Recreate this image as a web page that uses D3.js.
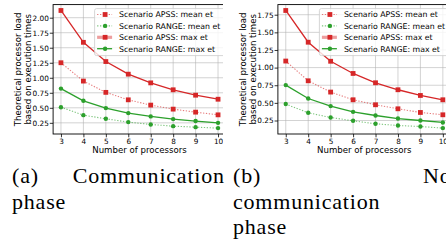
<!DOCTYPE html>
<html><head><meta charset="utf-8">
<script src="https://cdn.jsdelivr.net/npm/d3@7"></script>
<style>
html,body{margin:0;padding:0;background:#fff;}
svg{display:block;}
</style></head>
<body>
<svg id="chart" width="446" height="244"></svg>
<script>
// ---- data ----
const processors = [3, 4, 5, 6, 7, 8, 9, 10];
const commApssMean  = [1.25, 0.945, 0.757, 0.633, 0.545, 0.478, 0.428, 0.383];
const commRangeMean = [0.51, 0.378, 0.317, 0.262, 0.223, 0.195, 0.178, 0.162];
const commApssMax   = [2.12, 1.59, 1.27, 1.06, 0.915, 0.80, 0.71, 0.643];
const commRangeMax  = [0.82, 0.617, 0.495, 0.412, 0.357, 0.312, 0.28, 0.25];
const noCommApssMean  = [1.093, 0.813, 0.653, 0.544, 0.473, 0.416, 0.364, 0.331];
const noCommRangeMean = [0.483, 0.359, 0.293, 0.246, 0.203, 0.179, 0.165, 0.142];
const noCommApssMax   = [1.81, 1.36, 1.09, 0.917, 0.785, 0.686, 0.605, 0.544];
const noCommRangeMax  = [0.752, 0.562, 0.454, 0.373, 0.321, 0.278, 0.25, 0.222];
const seriesLabels = ["Scenario APSS: mean et", "Scenario RANGE: mean et", "Scenario APSS: max et", "Scenario RANGE: max et"];
const commYTicks = [0.25, 0.5, 0.75, 1.0, 1.25, 1.5, 1.75, 2.0];
const noCommYTicks = [0.25, 0.5, 0.75, 1.0, 1.25, 1.5, 1.75];
const xLabel = "Number of processors";
const yLabelLines = ["Theoretical processor load", "based on execution times"];

const RED = "#d62728", GREEN = "#2ca02c";
const svg = d3.select("#chart");

function pad5(lo, hi) { const p = (hi - lo) * 0.05; return [lo - p, hi + p]; }

function panel(opt) {
  const {clipX, clipW, left, id, series, yTicks} = opt;
  const top = 4.6, bottom = 134, width = 172.8;
  svg.append("clipPath").attr("id", "clip" + id)
    .append("rect").attr("x", clipX).attr("y", 0).attr("width", clipW).attr("height", 244);
  const g = svg.append("g").attr("clip-path", `url(#clip${id})`);

  const x = d3.scaleLinear().domain(pad5(3, 10)).range([left, left + width]);
  const all = series.flatMap(s => s.values);
  const y = d3.scaleLinear().domain(pad5(d3.min(all), d3.max(all))).range([bottom, top]);

  // grid
  g.append("g").selectAll("line").data(processors).join("line")
    .attr("x1", d => x(d)).attr("x2", d => x(d)).attr("y1", top).attr("y2", bottom)
    .attr("stroke", "#b0b0b0").attr("stroke-width", 0.8).attr("stroke-opacity", 0.7);
  g.append("g").selectAll("line").data(yTicks).join("line")
    .attr("x1", left).attr("x2", left + width).attr("y1", d => y(d)).attr("y2", d => y(d))
    .attr("stroke", "#b0b0b0").attr("stroke-width", 0.8).attr("stroke-opacity", 0.7);

  // series
  series.forEach(s => {
    const line = d3.line().x((d, i) => x(processors[i])).y(d => y(d)).curve(d3.curveLinear);
    g.append("path").datum(s.values).attr("d", line)
      .attr("fill", "none").attr("stroke", s.color)
      .attr("stroke-width", s.dashed ? 1.1 : 1.3)
      .attr("stroke-opacity", s.dashed ? 0.6 : 1)
      .attr("stroke-dasharray", s.dashed ? "1.3,1.6" : null);
    if (s.marker === "square") {
      g.append("g").selectAll("rect").data(s.values).join("rect")
        .attr("x", (d, i) => x(processors[i]) - 2.4).attr("y", d => y(d) - 2.4)
        .attr("width", 4.8).attr("height", 4.8).attr("fill", s.color);
    } else {
      g.append("g").selectAll("circle").data(s.values).join("circle")
        .attr("cx", (d, i) => x(processors[i])).attr("cy", d => y(d))
        .attr("r", 2.2).attr("fill", s.color);
    }
  });

  // spines
  g.append("rect").attr("x", left).attr("y", top).attr("width", width).attr("height", bottom - top)
    .attr("fill", "none").attr("stroke", "#000").attr("stroke-width", 0.9);

  // axes
  const xa = g.append("g").attr("transform", `translate(0,${bottom})`)
    .call(d3.axisBottom(x).tickValues(processors).tickFormat(d3.format("d")).tickSize(3.3).tickPadding(1.5));
  const ya = g.append("g").attr("transform", `translate(${left},0)`)
    .call(d3.axisLeft(y).tickValues(yTicks).tickFormat(d3.format(".2f")).tickSize(3.3).tickPadding(1));
  [xa, ya].forEach(a => {
    a.select(".domain").remove();
    a.selectAll("line").attr("stroke", "#000").attr("stroke-width", 0.8);
    a.selectAll("text").attr("font-family", "DejaVu Sans").attr("font-size", 7.3).attr("fill", "#000");
  });

  // axis labels
  g.append("text").attr("x", left + width / 2).attr("y", 153.2).attr("text-anchor", "middle")
    .attr("font-family", "DejaVu Sans").attr("font-size", 8.6).text(xLabel);
  const cy = (top + bottom) / 2;
  yLabelLines.forEach((t, i) => {
    const bx = left - 32.3 + i * 10.2;
    g.append("text").attr("transform", `translate(${bx},${cy}) rotate(-90)`)
      .attr("text-anchor", "middle").attr("font-family", "DejaVu Sans").attr("font-size", 8.6).text(t);
  });

  // legend
  const lx = left + 41.5, ly = 8.6;
  const lg = g.append("g");
  lg.append("rect").attr("x", lx).attr("y", ly).attr("width", 132).attr("height", 47).attr("rx", 2)
    .attr("fill", "#fff").attr("fill-opacity", 0.8).attr("stroke", "#cccccc").attr("stroke-width", 0.8);
  series.forEach((s, i) => {
    const ry = 14.5 + i * 11.4;
    if (s.thick) {
      lg.append("line").attr("x1", lx + 2.5).attr("x2", lx + 17.5).attr("y1", ry).attr("y2", ry)
        .attr("stroke", s.color).attr("stroke-opacity", 0.45).attr("stroke-width", 3.2);
    } else {
      lg.append("line").attr("x1", lx + 2.5).attr("x2", lx + 17.5).attr("y1", ry).attr("y2", ry)
        .attr("stroke", s.color).attr("stroke-width", s.dashed ? 1.1 : 1.3)
        .attr("stroke-opacity", s.dashed ? 0.6 : 1)
        .attr("stroke-dasharray", s.dashed ? "1.3,1.6" : null);
    }
    if (s.marker === "square") {
      lg.append("rect").attr("x", lx + 10.5 - 2.4).attr("y", ry - 2.4).attr("width", 4.8).attr("height", 4.8).attr("fill", s.color);
    } else {
      lg.append("circle").attr("cx", lx + 10.5).attr("cy", ry).attr("r", 2.2).attr("fill", s.color);
    }
    lg.append("text").attr("x", lx + 24.5).attr("y", ry + 2.8).attr("font-family", "DejaVu Sans")
      .attr("font-size", 7.8).attr("fill", "#000").text(seriesLabels[i]);
  });
}

function mkSeries(apssMean, rangeMean, apssMax, rangeMax) {
  return [
    {values: apssMean, color: RED, dashed: true, marker: "square"},
    {values: rangeMean, color: GREEN, dashed: true, marker: "circle"},
    {values: apssMax, color: RED, dashed: false, marker: "square", thick: true},
    {values: rangeMax, color: GREEN, dashed: false, marker: "circle"}
  ];
}

panel({clipX: 0, clipW: 223, left: 53.1, id: "a", yTicks: commYTicks,
  series: mkSeries(commApssMean, commRangeMean, commApssMax, commRangeMax)});
panel({clipX: 223, clipW: 223, left: 277.9, id: "b", yTicks: noCommYTicks,
  series: mkSeries(noCommApssMean, noCommRangeMean, noCommApssMax, noCommRangeMax)});

// captions
const cap = svg.append("g").attr("font-family", "Liberation Serif").attr("font-size", 22)
  .attr("letter-spacing", 0.8).attr("fill", "#000");
[["(a)", 12, 183], ["Communication", 72.7, 183], ["phase", 12, 208.5],
 ["(b)", 233, 183], ["No-", 423, 183], ["communication", 233, 208.5], ["phase", 233, 234]]
  .forEach(([t, x, y]) => cap.append("text").attr("x", x).attr("y", y).text(t));
</script>
</body></html>
